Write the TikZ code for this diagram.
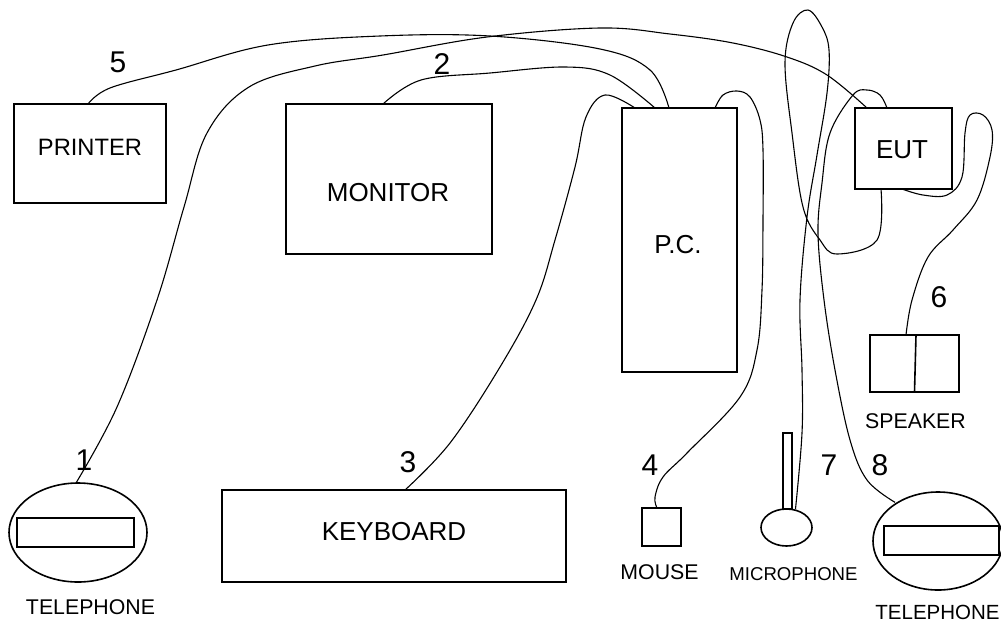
\documentclass[tikz,border=0pt]{standalone}
\usepackage{fontspec}
\setmainfont{Liberation Sans}
\usetikzlibrary{shapes.geometric,calc}

\tikzset{
  unit/.style={draw=black, line width=1.6pt, rectangle, inner sep=0pt, outer sep=0pt},
  oval/.style={draw=black, line width=1.6pt, ellipse, inner sep=0pt, outer sep=0pt},
  wire/.style={draw=black, line width=1.1pt, line join=round},
  name big/.style={inner sep=0pt, font=\fontsize{26}{26}\selectfont},
  name small/.style={inner sep=0pt, font=\fontsize{21.3}{22}\selectfont},
  num/.style={inner sep=0pt, font=\fontsize{30}{30}\selectfont}
}

\begin{document}
\begin{tikzpicture}[x=1pt, y=-1pt]
\useasboundingbox (0,0) rectangle (1001,622);

% ================= UNITS =================
\node[unit, minimum width=152pt, minimum height=99pt] (printer) at (90,153.5) {};
\node[unit, minimum width=206pt, minimum height=150pt] (monitor) at (389,179) {};
\node[unit, minimum width=115pt, minimum height=264pt] (pc) at (679.5,240) {};
\node[unit, minimum width=97pt, minimum height=81pt] (eut) at (903.5,148.5) {};
\node[unit, minimum width=89pt, minimum height=57pt] (speaker) at (914.5,363.5) {};
\node[unit, minimum width=344pt, minimum height=92pt] (keyboard) at (394,536) {};
\node[unit, minimum width=39pt, minimum height=38pt] (mouse) at (661.5,527) {};

\draw[line width=1.6pt] (speaker.north) ++(1.5,0) -- (speaker.south);

% Microphone
\node[unit, line width=1.3pt, minimum width=9pt, minimum height=76pt] (stick) at (787.5,471) {};
\node[oval, fill=white, minimum width=51pt, minimum height=37pt] (mic) at (786.5,527.5) {};

% Telephones
\node[oval, minimum width=138pt, minimum height=99pt] (phoneL) at (78,532.5) {};
\node[unit, minimum width=117pt, minimum height=29pt] (padL) at (75.5,532.5) {};
\node[oval, minimum width=130pt, minimum height=98pt] (phoneR) at (938,541) {};
\node[unit, minimum width=115pt, minimum height=29pt] (padR) at (941.5,540.5) {};

% ================= TEXTS =================
\node[name big] (printertxt) at (90,147) {\fontsize{23.7}{24}\selectfont PRINTER};
\node[name big] (monitortxt) at (388,193) {MONITOR};
\node[name big] (pctxt) at (678,245) {P.C.};
\node[name big] (euttxt) at (902,150) {EUT};
\node[name big] (keyboardtxt) at (394,532) {KEYBOARD};
\node[name small] (mousetxt) at (659.5,572) {MOUSE};
\node[name small] (mictxt) at (793.5,574) {\fontsize{18.6}{19}\selectfont MICROPHONE};
\node[name small] (speakertxt) at (915.5,421) {SPEAKER};
\node[name small] (phoneLtxt) at (90.5,607) {TELEPHONE};
\node[name small] (phoneRtxt) at (937.5,612) {\fontsize{20.5}{21}\selectfont TELEPHONE};

% ================= NUMBERS =================
\node[num] (n1) at (84,460) {1};
\node[num] (n2) at (442,64) {2};
\node[num] (n3) at (408,462) {3};
\node[num] (n4) at (650,465) {4};
\node[num] (n5) at (118,62) {5};
\node[num] (n6) at (939,297) {6};
\node[num] (n7) at (829,465) {7};
\node[num] (n8) at (880,465) {8};

% ================= WIRES =================
% 1: telephone to EUT
\draw[wire] plot[smooth, tension=0.6] coordinates {
  ($(phoneL.north)+(-2,0)$) (117,407) (157,300) (184,207) (207,133) (249,87)
  (315,66) (383,55) (487,37) (600,28) (670,34) (733,43) (787,57) (827,75) ($(eut.north west)+(12,0)$)};
% 2: monitor to P.C.
\draw[wire] plot[smooth, tension=0.6] coordinates {
  ($(monitor.north west)+(97,0)$) (421,80) (490,73) (565,67) (610,75) ($(pc.north west)+(33,0)$)};
% 3: keyboard to P.C.
\draw[wire] plot[smooth, tension=0.6] coordinates {
  ($(keyboard.north west)+(183,0)$) (450,443) (500,367) (536,300) (555,240) (575,167) (586,117)
  (605,95) ($(pc.north west)+(13,0)$)};
% 4: mouse to P.C.
\draw[wire] plot[smooth, tension=0.6] coordinates {
  ($(mouse.north west)+(15,0)$) (655,497) (663,477) (687,453) (740,397) (757,350) (762,290) (763,220)
  (763,150) (760,120) (750,97) (737,91) (723,95) ($(pc.north west)+(93,0)$)};
% 5: printer to P.C.
\draw[wire] plot[smooth, tension=0.6] coordinates {
  ($(printer.north west)+(74,0)$) (110,88) (176,70) (268,45) (380,36) (490,36) (600,49)
  (650,70) ($(pc.north west)+(47,0)$)};
% 6: speaker to EUT
\draw[wire] plot[smooth, tension=0.6] coordinates {
  ($(speaker.north west)+(36,0)$) (912,300) (928,257) (953,230) (977,200) (990,157) (992,130)
  (983,115) (970,115) (965,133) (962,177) (947,195) (923,195) ($(eut.south west)+(47,0)$)};
% 7: microphone to EUT
\draw[wire] plot[smooth, tension=0.6] coordinates {
  ($(mic.north)+(9,0)$) (802,433) (802,370) (800,300) (807,217) (817,155) (827,93) (829,50) (822,27) (808,10)
  (793,23) (785,63) (792,133) (803,207) (820,240) (837,254) (877,240) ($(eut.south west)+(26,0)$)};
% 8: telephone to EUT
\draw[wire] plot[smooth, tension=0.6] coordinates {
  ($(phoneR.north west)+(3,-4)$) (867,480) (850,440) (835,370) (824,300) (818,233) (822,183) (830,133) (853,95)
  (867,90) (880,95) ($(eut.north west)+(32,0)$)};

\end{tikzpicture}
\end{document}
